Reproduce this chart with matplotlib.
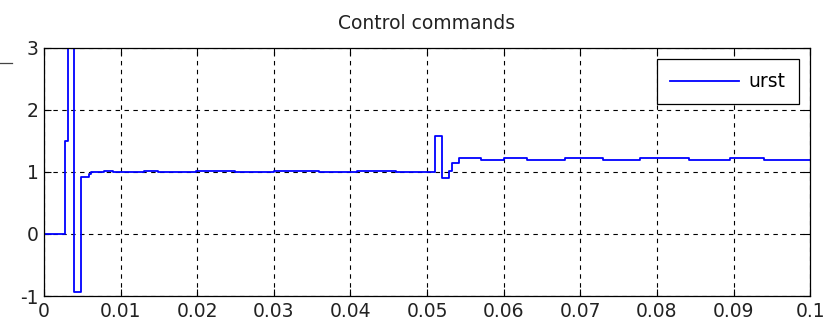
import numpy as np
import matplotlib.pyplot as plt
from matplotlib.lines import Line2D

# switching instants (s) and the command level held from each instant on
t_switch = [0.0, 0.00274, 0.00317, 0.00396, 0.00483, 0.0059, 0.0061,
            0.0078, 0.0090, 0.0130, 0.0149, 0.0198, 0.0249, 0.0300, 0.0359,
            0.0409, 0.0459, 0.05104, 0.0520, 0.05291, 0.05322, 0.05418,
            0.05701, 0.06005, 0.06302, 0.06802, 0.07294, 0.07781, 0.0842,
            0.08956, 0.0940, 0.1]
urst = [0.0, 1.5, 3.5, -0.93, 0.92, 0.96, 1.0,
        1.02, 1.0, 1.02, 1.0, 1.02, 1.0, 1.02, 1.0,
        1.02, 1.0, 1.58, 0.91, 1.02, 1.14, 1.226,
        1.19, 1.226, 1.19, 1.226, 1.19, 1.226, 1.19,
        1.226, 1.19, 1.19]

xticks = [0, 0.01, 0.02, 0.03, 0.04, 0.05, 0.06, 0.07, 0.08, 0.09, 0.1]
xticklabels = ['0', '0.01', '0.02', '0.03', '0.04', '0.05', '0.06', '0.07', '0.08', '0.09', '0.1']
yticks = [-1, 0, 1, 2, 3]

plt.rcParams['font.family'] = 'DejaVu Sans'
plt.rcParams['axes.unicode_minus'] = False

fig = plt.figure(figsize=(8.25, 3.24), dpi=100)
ax = fig.add_axes([0.0533, 0.0864, 0.9287, 0.7656])

ax.plot(t_switch, urst, color='#0000ff', linewidth=1.3, drawstyle='steps-post', label='urst')

ax.set_xlim(0, 0.1)
ax.set_ylim(-1, 3)
ax.set_xticks(xticks)
ax.set_xticklabels(xticklabels)
ax.set_yticks(yticks)
ax.tick_params(direction='in', top=True, right=True, length=5, width=0.8,
               labelsize=13.5, colors='black', pad=4)
for lbl in ax.get_xticklabels() + ax.get_yticklabels():
    lbl.set_color('#222222')
for sp in ax.spines.values():
    sp.set_linewidth(0.9)
    sp.set_color('black')

ax.grid(True, color='black', linestyle=(0, (4, 4)), linewidth=0.8)
ax.set_title('Control commands', fontsize=13.5, color='#222222', pad=14)

leg = ax.legend(loc='upper right', fontsize=13.5, frameon=True, fancybox=False,
                edgecolor='black', framealpha=1, borderaxespad=0.6,
                handlelength=3.7, handletextpad=0.5, borderpad=0.7)
leg.get_frame().set_linewidth(0.9)

# small stray mark at the upper left of the figure
fig.add_artist(Line2D([0.0, 0.0145], [0.806, 0.806], color='#444444', linewidth=0.9))

fig.savefig('out.png', dpi=100)
